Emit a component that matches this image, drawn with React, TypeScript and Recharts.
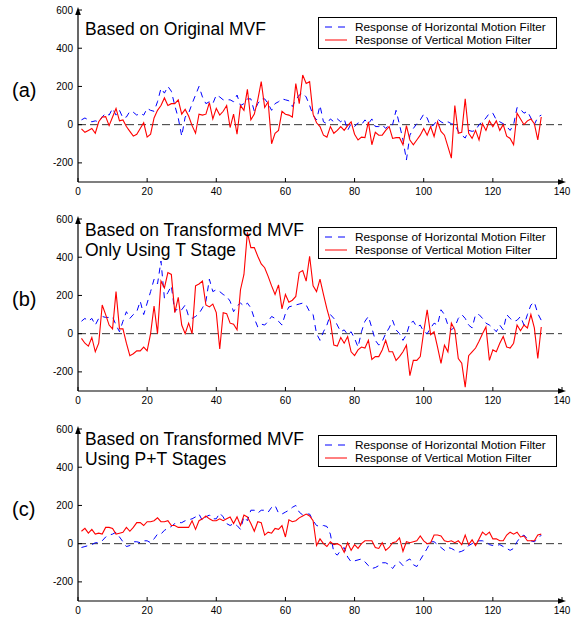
import React from 'react';
import { LineChart, Line, XAxis, YAxis, ReferenceLine } from 'recharts';

const X_TICKS = [0, 20, 40, 60, 80, 100, 120, 140];
const Y_TICKS = [-200, 0, 200, 400, 600];

// (a) original MVF, samples 1..134
const H_A = [
  25, 35, 25, 15, 20, 15, 40, 60, 50, 85,
  50, 75, 35, 40, 70, 65, 50, 60, 50, 85,
  75, 70, 120, 190, 165, 200, 175, 100, 35, -60,
  40, 60, 110, 155, 200, 145, 110, 120, 110, 155,
  145, 130, 130, 130, 120, 155, 100, 110, 135, 135,
  70, 110, 135, 135, 110, 75, 110, 120, 135, 130,
  125, 95, 130, 155, 165, 145, 100, 50, 25, 100,
  15, 5, 30, 15, 30, 15, 30, -30, 5, -10,
  10, 0, 25, 5, 30, -10, -10, 0, -20, 0,
  0, 75, 0, -80, -185, -55, -20, 5, 25, 55,
  35, -10, 0, 30, 15, 5, 15, 5, 0, -35,
  -55, -70, -30, -35, -30, 0, 15, 35, 60, 60,
  25, 15, 5, -10, -30, 0, 90, 80, 60, 70,
  35, 0, 40, 50,
];
const V_A = [
  -22, -40, -30, -20, -45, 15, 40, 42, -5, 40,
  85, 20, 25, -10, -35, -60, -50, -20, 10, -65,
  -50, 35, 75, 100, 140, 100, 110, 110, 130, 55,
  80, 45, -5, -45, 55, 50, 55, 115, 30, 85,
  50, 70, 100, -15, 55, -50, 100, 75, 185, 25,
  55, 130, 225, 90, 120, -100, -45, -30, 70, 55,
  50, 40, 215, 110, 260, 215, 225, 55, 10, -10,
  -55, -65, -10, -45, -30, -10, -30, -5, 15, -50,
  -80, -65, -68, 15, -105, -40, -55, -55, -30, -10,
  -72, -68, -68, -105, -5, -80, -105, -80, -55, -20,
  -55, -10, -62, 15, -35, -55, -115, -175, 100, -45,
  -40, 135, -45, -72, -30, -80, 5, -30, 20, -10,
  20, -30, 0, -60, -72, -105, 60, 30, 0, 20,
  30, 5, -80, 40,
];

// (b) transformed MVF, T stage only
const H_B = [
  65, 80, 65, 80, 45, 80, 90, 85, 85, 88,
  45, 10, 65, 115, 80, 100, 115, 170, 100, 160,
  220, 285, 260, 380, 185, 215, 250, 115, 135, 125,
  150, 90, 80, 90, 105, 135, 170, 285, 220, 230,
  220, 205, 195, 170, 115, 145, 160, 145, 160, 135,
  80, 35, 50, 45, 65, 90, 80, 65, 45, 105,
  140, 145, 150, 155, 160, 150, 115, 100, 0, -35,
  10, 45, 100, 80, 45, 10, 20, -5, 10, -25,
  -70, 10, 65, 90, 30, -35, -60, -40, 0, 30,
  70, 20, 0, -35, -5, 55, 65, 35, 45, 10,
  0, 30, 55, 45, 125, 100, 45, 20, 35, 80,
  100, 80, 45, 30, 100, 100, 80, 55, 45, 30,
  10, 45, 20, 100, 80, 65, 70, 90, 45, 100,
  150, 165, 105, 70,
];
const V_B = [
  -25, -50, -65, -20, -95, -50, 150, 100, 45, 25,
  220, 25, 25, -50, -115, -105, -90, -90, -70, -90,
  0, 145, 0, 275, 240, 320, 310, 110, 190, 45,
  0, 55, 0, 250, 260, 275, 150, 140, 155, 110,
  -80, 110, 105, 55, 50, 20, 230, 310, 530, 450,
  450, 405, 365, 345, 300, 250, 205, 255, 130, 205,
  165, 175, 195, 320, 330, 275, 405, 250, 220, 285,
  205, 130, 65, -60, -65, -20, -50, -15, -95, -115,
  -85, -70, -75, -35, -135, -120, -120, -85, -35, -95,
  -95, -140, -120, -95, -60, -220, -140, -140, -120, 10,
  125, -5, 10, -70, -155, -60, -95, 55, 20, -130,
  -155, -280, -115, -95, -75, -40, 0, 35, -140, -85,
  -95, -50, -15, -70, -75, -50, 45, 15, 45, 30,
  100, 30, -130, 35,
];

// (c) transformed MVF, P+T stages
const H_C = [
  -20, -15, -10, -5, 5, 5, 15, 35, 45, 50,
  60, 35, 10, -15, -10, 10, 10, 5, 15, 15,
  5, 25, 50, 50, 70, 80, 90, 105, 110, 110,
  120, 125, 130, 140, 155, 120, 140, 150, 130, 130,
  160, 140, 105, 95, 105, 95, 75, 140, 120, 175,
  175, 160, 175, 175, 165, 190, 200, 160, 155, 165,
  175, 190, 200, 165, 150, 155, 155, 120, 95, 90,
  95, 90, 50, -45, -60, -35, -20, -70, -95, -90,
  -85, -80, -95, -115, -130, -125, -115, -100, -100, -110,
  -130, -105, -95, -115, -90, -80, -110, -120, -85, -55,
  -25, 10, 10, -5, -20, -35, -20, -25, -35, -45,
  -40, -30, -10, 0, 10, 15, 15, 10, -5, -10,
  -10, -5, -15, -25, -35, -25, 10, 35, 45, 25,
  15, 10, 25, 45,
];
const V_C = [
  65, 80, 55, 75, 50, 55, 50, 85, 85, 80,
  50, 55, 60, 85, 65, 85, 110, 110, 95, 115,
  115, 120, 135, 115, 115, 120, 95, 95, 85, 85,
  85, 85, 120, 75, 120, 130, 145, 130, 120, 120,
  130, 120, 130, 140, 105, 140, 95, 150, 140, 105,
  65, 115, 110, 45, 60, 55, 80, 75, 95, 35,
  125, 115, 120, 135, 145, 155, 145, 120, -10, 25,
  0, -15, 10, -5, 0, -10, -45, 5, -35, -5,
  -25, 0, 15, 15, 15, -20, -25, 5, -35, -20,
  5, 10, 30, -40, 10, 5, 10, 15, 40, 15,
  0, 5, 45, 45, 40, 15, 10, 15, 5, 15,
  -5, 45, -5, 20, -10, 25, 60, 45, 60, 25,
  25, 15, 15, 45, 60, 50, 60, 35, 40, 15,
  15, 15, 45, 50,
];

const LEGEND_H = 'Response of Horizontal Motion Filter';
const LEGEND_V = 'Response of Vertical Motion Filter';

const buildRows = (h: number[], v: number[]) =>
  h.map((val, i) => ({ x: i + 1, h: val, v: v[i] }));

// plotTop / plotBottom: pixel rows of the 600 and -300 levels, used for the axis arrows
const PANELS = [
  { id: 'a', top: 0, label: '(a)', labelY: 97, title: ['Based on Original MVF'], titleY: [35], legendTop: 17, rows: buildRows(H_A, V_A) },
  { id: 'b', top: 209, label: '(b)', labelY: 306, title: ['Based on Transformed MVF', 'Only Using T Stage'], titleY: [236, 256], legendTop: 227, rows: buildRows(H_B, V_B) },
  { id: 'c', top: 419, label: '(c)', labelY: 516, title: ['Based on Transformed MVF', 'Using P+T Stages'], titleY: [445, 465], legendTop: 435, rows: buildRows(H_C, V_C) },
];

const FONT = '"Liberation Sans", Arial, Helvetica, sans-serif';
const PLOT_LEFT = 78;
const PLOT_RIGHT = 562;

const YTick = (props: any) => {
  const { x, y, payload } = props;
  return (
    <g>
      <line x1={x} x2={x + 4} y1={y} y2={y} stroke="#000" />
      <text x={x - 5} y={y} dy={3.5} textAnchor="end" fontSize={10} fontFamily={FONT} fill="#000">
        {payload.value}
      </text>
    </g>
  );
};

const XTick = (props: any) => {
  const { x, y, payload } = props;
  return (
    <g>
      <line x1={x} x2={x} y1={y} y2={y - 4} stroke="#000" />
      <text x={x} y={y + 13} textAnchor="middle" fontSize={10} fontFamily={FONT} fill="#000">
        {payload.value}
      </text>
    </g>
  );
};

const Panel = ({ rows, top }: { rows: any[]; top: number }) => (
  <div style={{ position: 'absolute', left: 0, top }}>
    <LineChart width={576} height={200} data={rows} margin={{ top: 10, right: 14, bottom: 0, left: 0 }}>
      <XAxis
        dataKey="x"
        type="number"
        domain={[0, 140]}
        ticks={X_TICKS}
        interval={0}
        height={18}
        tickSize={0}
        tickMargin={0}
        tickLine={false}
        tick={(p: any) => <XTick {...p} />}
        axisLine={{ stroke: '#000', strokeWidth: 1.2 }}
      />
      <YAxis
        type="number"
        domain={[-300, 600]}
        ticks={Y_TICKS}
        interval={0}
        width={78}
        tickSize={0}
        tickMargin={0}
        tickLine={false}
        tick={(p: any) => <YTick {...p} />}
        axisLine={{ stroke: '#000', strokeWidth: 1.2 }}
      />
      <ReferenceLine y={0} stroke="#333" strokeDasharray="8 4" strokeWidth={1} />
      <Line dataKey="h" stroke="#0000ff" strokeWidth={1} strokeDasharray="6 5" dot={false} isAnimationActive={false} />
      <Line dataKey="v" stroke="#ff0000" strokeWidth={1.1} dot={false} isAnimationActive={false} />
    </LineChart>
  </div>
);

const Overlay = () => (
  <svg
    width={576}
    height={620}
    style={{ position: 'absolute', left: 0, top: 0, pointerEvents: 'none' }}
    fontFamily={FONT}
  >
    {PANELS.map((p) => {
      const yTop = p.top + 10;
      const yBottom = p.top + 182;
      return (
        <g key={p.id}>
          {/* axis arrow heads */}
          <path d={`M${PLOT_LEFT},${yTop - 3} L${PLOT_LEFT - 2.8},${yTop + 5} L${PLOT_LEFT + 2.8},${yTop + 5} z`} fill="#000" />
          <path d={`M${PLOT_RIGHT + 4},${yBottom} L${PLOT_RIGHT - 4},${yBottom - 2.8} L${PLOT_RIGHT - 4},${yBottom + 2.8} z`} fill="#000" />
          <text x={12} y={p.labelY} fontSize={20} fill="#000">{p.label}</text>
          {p.title.map((t, i) => (
            <text key={i} x={85} y={p.titleY[i]} fontSize={17.5} fill="#000">{t}</text>
          ))}
          <rect x={318.5} y={p.legendTop + 0.5} width={238} height={31} fill="#fff" stroke="#000" strokeWidth={1} />
          <line x1={325} x2={347} y1={p.legendTop + 10} y2={p.legendTop + 10} stroke="#0000ff" strokeDasharray="7 6" />
          <text x={355} y={p.legendTop + 14} fontSize={11.8} fill="#000">{LEGEND_H}</text>
          <line x1={325} x2={347} y1={p.legendTop + 23} y2={p.legendTop + 23} stroke="#ff0000" />
          <text x={355} y={p.legendTop + 27} fontSize={11.8} fill="#000">{LEGEND_V}</text>
        </g>
      );
    })}
  </svg>
);

export default function App() {
  return (
    <div style={{ position: 'absolute', left: 0, top: 0, width: 576, height: 620, background: '#fff', fontFamily: FONT }}>
      {PANELS.map((p) => (
        <Panel key={p.id} rows={p.rows} top={p.top} />
      ))}
      <Overlay />
    </div>
  );
}
